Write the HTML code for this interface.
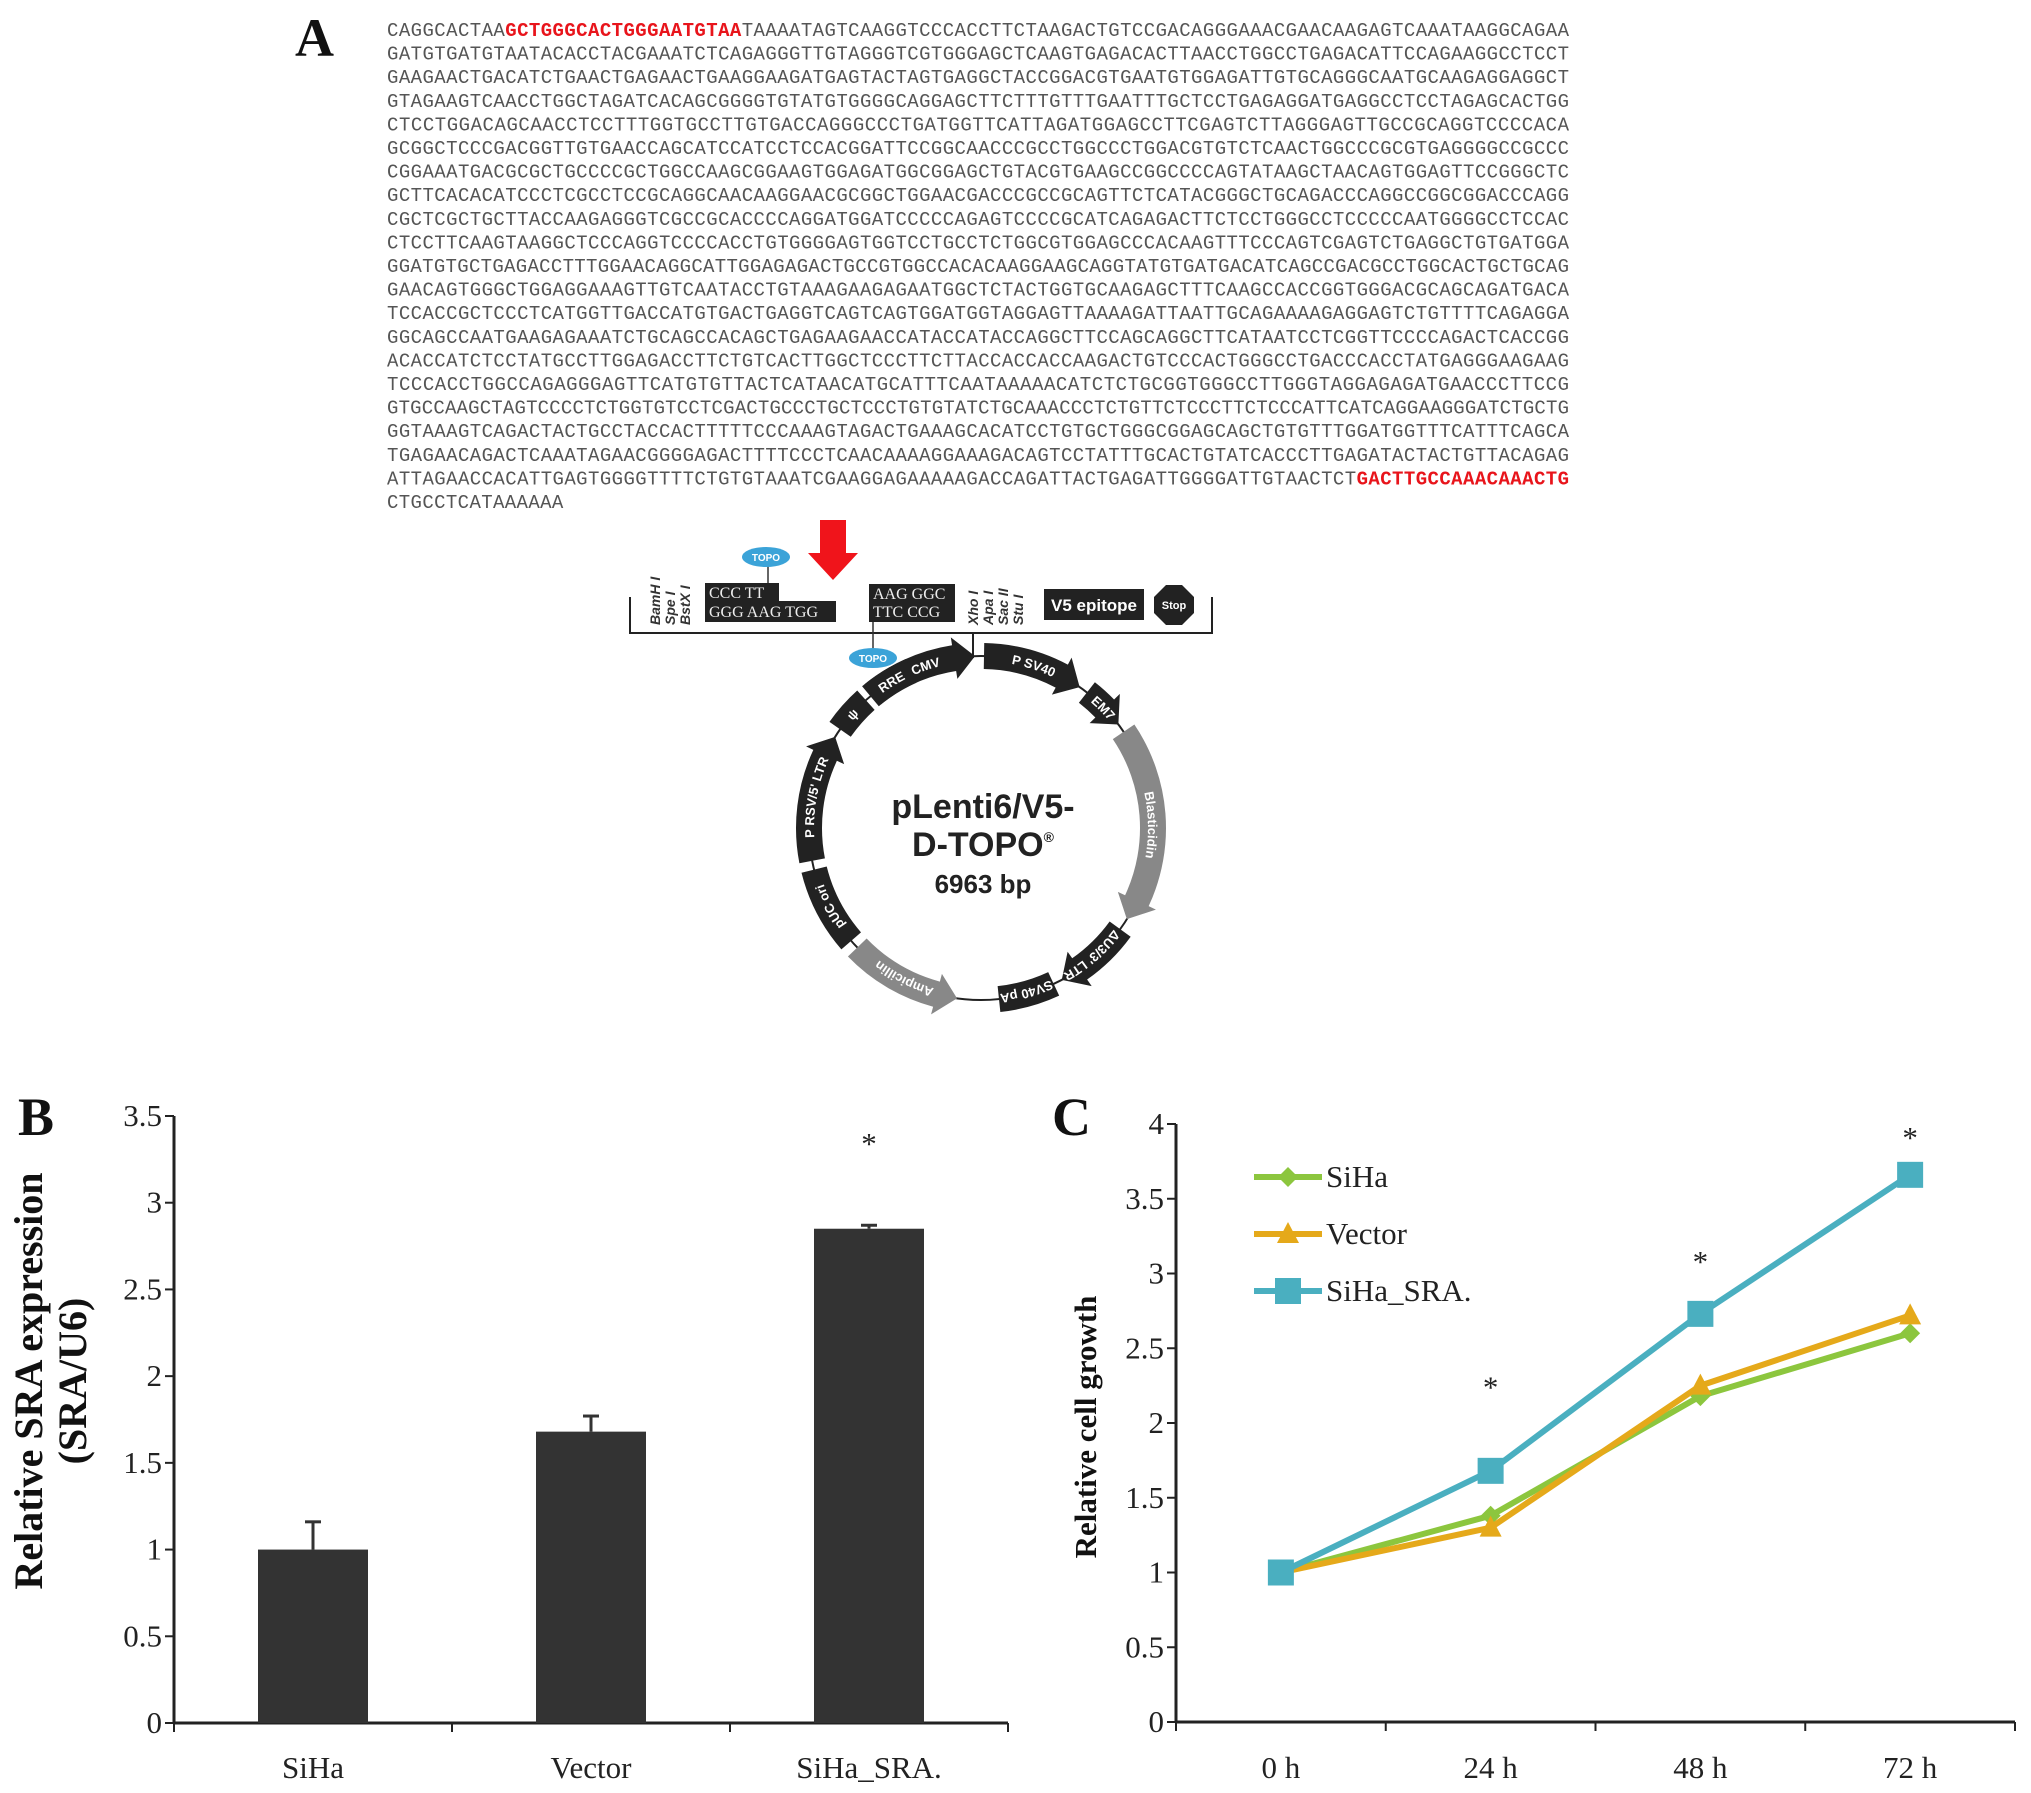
<!DOCTYPE html>
<html><head><meta charset="utf-8"><style>
html,body{margin:0;padding:0;background:#fff}
svg{display:block}
.seq{font-family:"Liberation Mono",monospace;font-size:19px;fill:#555}
.red{fill:#e8141b;font-weight:bold}
.tk{font-family:"Liberation Serif",serif;font-size:31px;fill:#222}
.ttl{font-family:"Liberation Serif",serif;font-weight:bold;fill:#111}
.pl{font-family:"Liberation Sans",sans-serif;font-weight:bold}
</style></head><body>
<svg id="fig" width="2031" height="1793" viewBox="0 0 2031 1793" xmlns="http://www.w3.org/2000/svg">
<text class="ttl" x="295" y="56" font-size="54">A</text>
<g id="seqg"></g>

<g>
  <polygon points="820,520 846,520 846,553 858,553 833,580 808,553 820,553" fill="#f0141b"/>
  <polyline points="630,597 630,633 1212,633 1212,597" fill="none" stroke="#222" stroke-width="2"/>
  <line x1="973" y1="633" x2="973" y2="658" stroke="#222" stroke-width="2"/>
  <g class="pl" font-style="italic" font-weight="normal" font-size="14" fill="#333">
    <text transform="translate(660,625) rotate(-90)">BamH I</text>
    <text transform="translate(675,625) rotate(-90)">Spe I</text>
    <text transform="translate(690,625) rotate(-90)">BstX I</text>
    <text transform="translate(978,625) rotate(-90)">Xho I</text>
    <text transform="translate(993,625) rotate(-90)">Apa I</text>
    <text transform="translate(1008,625) rotate(-90)">Sac II</text>
    <text transform="translate(1023,625) rotate(-90)">Stu I</text>
  </g>
  <rect x="705" y="583" width="74" height="20" fill="#222"/>
  <rect x="705" y="601" width="131" height="21" fill="#222"/>
  <rect x="869" y="584" width="86" height="38" fill="#222"/>
  <g font-family="Liberation Serif,serif" font-size="16" fill="#eee">
    <text x="709" y="598">CCC  TT</text>
    <text x="709" y="617">GGG  AAG  TGG</text>
    <text x="873" y="599">AAG  GGC</text>
    <text x="873" y="617">TTC  CCG</text>
  </g>
  <line x1="768" y1="562" x2="768" y2="583" stroke="#333" stroke-width="1.5"/>
  <line x1="873" y1="622" x2="873" y2="652" stroke="#333" stroke-width="1.5"/>
  <ellipse cx="766" cy="557" rx="24" ry="10" fill="#3ba3d8"/>
  <ellipse cx="873" cy="658" rx="24" ry="10" fill="#3ba3d8"/>
  <text x="766" y="561" font-size="10" fill="#fff" text-anchor="middle" class="pl">TOPO</text>
  <text x="873" y="662" font-size="10" fill="#fff" text-anchor="middle" class="pl">TOPO</text>
  <rect x="1044" y="589" width="100" height="31" fill="#222"/>
  <text x="1094" y="611" class="pl" font-size="17" fill="#fff" text-anchor="middle">V5 epitope</text>
  <polygon points="1166,585 1182,585 1194,597 1194,613 1182,625 1166,625 1154,613 1154,597" fill="#222"/>
  <text x="1174" y="609" class="pl" font-size="11" fill="#fff" text-anchor="middle">Stop</text>
  <g id="ring"></g>
  <g class="pl" fill="#222" text-anchor="middle">
    <text x="983" y="818" font-size="34">pLenti6/V5-</text>
    <text x="983" y="856" font-size="34">D-TOPO<tspan font-size="14" dy="-14">®</tspan></text>
    <text x="983" y="893" font-size="26">6963 bp</text>
  </g>
</g>

<text class="ttl" x="18" y="1135" font-size="54">B</text>
<g id="chartB"></g>
<text class="ttl" transform="translate(42,1381) rotate(-90)" font-size="40" text-anchor="middle">Relative SRA expression</text>
<text class="ttl" transform="translate(86,1381) rotate(-90)" font-size="40" text-anchor="middle">(SRA/U6)</text>

<text class="ttl" x="1052" y="1135" font-size="54">C</text>
<g id="chartC"></g>
<text class="ttl" transform="translate(1096,1427) rotate(-90)" font-size="31" text-anchor="middle">Relative cell growth</text>
</svg>
<script>
// ---- sequence ----
const seqLines = [
"CAGGCACTAA|GCTGGGCACTGGGAATGTAA|TAAAATAGTCAAGGTCCCACCTTCTAAGACTGTCCGACAGGGAAACGAACAAGAGTCAAATAAGGCAGAA",
"GATGTGATGTAATACACCTACGAAATCTCAGAGGGTTGTAGGGTCGTGGGAGCTCAAGTGAGACACTTAACCTGGCCTGAGACATTCCAGAAGGCCTCCT",
"GAAGAACTGACATCTGAACTGAGAACTGAAGGAAGATGAGTACTAGTGAGGCTACCGGACGTGAATGTGGAGATTGTGCAGGGCAATGCAAGAGGAGGCT",
"GTAGAAGTCAACCTGGCTAGATCACAGCGGGGTGTATGTGGGGCAGGAGCTTCTTTGTTTGAATTTGCTCCTGAGAGGATGAGGCCTCCTAGAGCACTGG",
"CTCCTGGACAGCAACCTCCTTTGGTGCCTTGTGACCAGGGCCCTGATGGTTCATTAGATGGAGCCTTCGAGTCTTAGGGAGTTGCCGCAGGTCCCCACA",
"GCGGCTCCCGACGGTTGTGAACCAGCATCCATCCTCCACGGATTCCGGCAACCCGCCTGGCCCTGGACGTGTCTCAACTGGCCCGCGTGAGGGGCCGCCC",
"CGGAAATGACGCGCTGCCCCGCTGGCCAAGCGGAAGTGGAGATGGCGGAGCTGTACGTGAAGCCGGCCCCAGTATAAGCTAACAGTGGAGTTCCGGGCTC",
"GCTTCACACATCCCTCGCCTCCGCAGGCAACAAGGAACGCGGCTGGAACGACCCGCCGCAGTTCTCATACGGGCTGCAGACCCAGGCCGGCGGACCCAGG",
"CGCTCGCTGCTTACCAAGAGGGTCGCCGCACCCCAGGATGGATCCCCCAGAGTCCCCGCATCAGAGACTTCTCCTGGGCCTCCCCCAATGGGGCCTCCAC",
"CTCCTTCAAGTAAGGCTCCCAGGTCCCCACCTGTGGGGAGTGGTCCTGCCTCTGGCGTGGAGCCCACAAGTTTCCCAGTCGAGTCTGAGGCTGTGATGGA",
"GGATGTGCTGAGACCTTTGGAACAGGCATTGGAGAGACTGCCGTGGCCACACAAGGAAGCAGGTATGTGATGACATCAGCCGACGCCTGGCACTGCTGCAG",
"GAACAGTGGGCTGGAGGAAAGTTGTCAATACCTGTAAAGAAGAGAATGGCTCTACTGGTGCAAGAGCTTTCAAGCCACCGGTGGGACGCAGCAGATGACA",
"TCCACCGCTCCCTCATGGTTGACCATGTGACTGAGGTCAGTCAGTGGATGGTAGGAGTTAAAAGATTAATTGCAGAAAAGAGGAGTCTGTTTTCAGAGGA",
"GGCAGCCAATGAAGAGAAATCTGCAGCCACAGCTGAGAAGAACCATACCATACCAGGCTTCCAGCAGGCTTCATAATCCTCGGTTCCCCAGACTCACCGG",
"ACACCATCTCCTATGCCTTGGAGACCTTCTGTCACTTGGCTCCCTTCTTACCACCACCAAGACTGTCCCACTGGGCCTGACCCACCTATGAGGGAAGAAG",
"TCCCACCTGGCCAGAGGGAGTTCATGTGTTACTCATAACATGCATTTCAATAAAAACATCTCTGCGGTGGGCCTTGGGTAGGAGAGATGAACCCTTCCG",
"GTGCCAAGCTAGTCCCCTCTGGTGTCCTCGACTGCCCTGCTCCCTGTGTATCTGCAAACCCTCTGTTCTCCCTTCTCCCATTCATCAGGAAGGGATCTGCTG",
"GGTAAAGTCAGACTACTGCCTACCACTTTTTCCCAAAGTAGACTGAAAGCACATCCTGTGCTGGGCGGAGCAGCTGTGTTTGGATGGTTTCATTTCAGCA",
"TGAGAACAGACTCAAATAGAACGGGGAGACTTTTCCCTCAACAAAAGGAAAGACAGTCCTATTTGCACTGTATCACCCTTGAGATACTACTGTTACAGAG",
"ATTAGAACCACATTGAGTGGGGTTTTCTGTGTAAATCGAAGGAGAAAAAGACCAGATTACTGAGATTGGGGATTGTAACTCT|GACTTGCCAAACAAACTG|",
"CTGCCTCATAAAAAA"];
const NS='http://www.w3.org/2000/svg';
function mk(tag,attrs,parent){const e=document.createElementNS(NS,tag);for(const k in attrs)e.setAttribute(k,attrs[k]);parent.appendChild(e);return e;}
const sg=document.getElementById('seqg');
seqLines.forEach((ln,i)=>{
  const parts=ln.split('|');const total=parts.join('').length;
  const len=i<seqLines.length-1?1182:total*11.75;
  const t=mk('text',{class:'seq',x:387,y:36+i*23.6,textLength:len.toFixed(1),lengthAdjust:'spacing'},sg);
  
  
  parts.forEach((p,j)=>{if(!p)return;const s=mk('tspan',j%2?{class:'red'}:{},t);s.textContent=p;});
});
// ---- plasmid ring ----
const ring=document.getElementById('ring');
const cx=981,cy=828,R=172,W=26;
function pt(a,r){const t=(a-90)*Math.PI/180;return [cx+r*Math.cos(t),cy+r*Math.sin(t)];}
mk('circle',{cx:cx,cy:cy,r:R,fill:'none',stroke:'#222','stroke-width':2},ring);
const segs=[[-40,-2,'#222',1,'P CMV'],[1,35,'#222',1,'P SV40'],[38,53,'#222',1,'EM7'],[56,122,'#888',1,'Blasticidin'],[126,152,'#222',1,'ΔU3/3\' LTR'],[155,174,'#222',0,'SV40 pA'],[188,226,'#888',-1,'Ampicillin'],[229,256,'#222',0,'pUC ori'],[259,302,'#222',1,'P RSV/5\' LTR'],[305,318,'#222',0,'ψ'],[321,336,'#222',0,'RRE']];
segs.forEach((s,i)=>{
  let [a0,a1,col,dir]=s;const ro=R+W/2,ri=R-W/2,ah=7;
  let d;
  if(dir===1){const b=a1-ah;const p1=pt(a0,ro),p2=pt(b,ro),p3=pt(b,ro+8),p4=pt(a1,R),p5=pt(b,ri-8),p6=pt(b,ri),p7=pt(a0,ri);
    d=`M${p1}A${ro},${ro} 0 0 1 ${p2}L${p3}L${p4}L${p5}L${p6}A${ri},${ri} 0 0 0 ${p7}Z`;}
  else if(dir===-1){const b=a0+ah;const p1=pt(b,ro),p2=pt(a1,ro),p3=pt(a1,ri),p4=pt(b,ri),p5=pt(b,ri-8),p6=pt(a0,R),p7=pt(b,ro+8);
    d=`M${p1}A${ro},${ro} 0 0 1 ${p2}L${p3}A${ri},${ri} 0 0 0 ${p4}L${p5}L${p6}L${p7}Z`;}
  else{const p1=pt(a0,ro),p2=pt(a1,ro),p3=pt(a1,ri),p4=pt(a0,ri);d=`M${p1}A${ro},${ro} 0 0 1 ${p2}L${p3}A${ri},${ri} 0 0 0 ${p4}Z`;}
  mk('path',{d:d,fill:col},ring);
  const pa=pt(a0+1,R-5),pb=pt(a1-1,R-5);
  mk('path',{id:'tp'+i,d:`M${pa}A${R-5},${R-5} 0 0 1 ${pb}`,fill:'none'},ring);
  const t=mk('text',{class:'pl','font-size':13,fill:'#fff'},ring);
  const tp=mk('textPath',{href:'#tp'+i,startOffset:'50%','text-anchor':'middle'},t);tp.textContent=s[4];
});
// ---- chart B ----
const bCats=["SiHa","Vector","SiHa_SRA."];
const bVals=[1.0,1.68,2.85];
const bErr=[0.16,0.09,0.02];
const bTicks=[0,0.5,1,1.5,2,2.5,3,3.5];
const bStar=[false,false,true];
const gB=document.getElementById('chartB');
const bx0=174,bx1=1008,by0=1723,bMax=3.5,bPix=607;
const byS=v=>by0-v/bMax*bPix;
const bw=(bx1-bx0)/bCats.length;
const bxS=i=>bx0+bw*(i+0.5);
mk('line',{x1:bx0,y1:byS(bMax),x2:bx0,y2:by0,stroke:'#222','stroke-width':3},gB);
mk('line',{x1:bx0,y1:by0,x2:bx1,y2:by0,stroke:'#222','stroke-width':3},gB);
bTicks.forEach(v=>{mk('line',{x1:bx0-9,y1:byS(v),x2:bx0,y2:byS(v),stroke:'#222','stroke-width':2},gB);
  const t=mk('text',{class:'tk',x:bx0-12,y:byS(v)+10,'text-anchor':'end'},gB);t.textContent=v;
  
  });
for(let i=0;i<=bCats.length;i++)mk('line',{x1:bx0+bw*i,y1:by0,x2:bx0+bw*i,y2:by0+9,stroke:'#222','stroke-width':2},gB);
bCats.forEach((c,i)=>{
  const x=bxS(i),w=110;
  mk('line',{x1:x,y1:byS(bVals[i]),x2:x,y2:byS(bVals[i]+bErr[i]),stroke:'#333','stroke-width':3},gB);
  mk('line',{x1:x-8,y1:byS(bVals[i]+bErr[i]),x2:x+8,y2:byS(bVals[i]+bErr[i]),stroke:'#333','stroke-width':3},gB);
  const r=mk('rect',{x:x-w/2,y:byS(bVals[i]),width:w,height:by0-byS(bVals[i]),fill:'#333'},gB);
  
  
  const t=mk('text',{class:'tk',x:x,y:1778,'text-anchor':'middle'},gB);t.textContent=c;
  
  
  if(bStar[i]){const s=mk('text',{class:'tk',x:x,y:byS(3.28),'text-anchor':'middle','font-size':38},gB);s.textContent='*';}
});
// ---- chart C ----
const cCats=["0 h","24 h","48 h","72 h"];
const cSiHa=[1,1.38,2.18,2.6];
const cVector=[1,1.3,2.25,2.72];
const cSRA=[1,1.68,2.73,3.66];
const cTicks=[0,0.5,1,1.5,2,2.5,3,3.5,4];
const cStars=[null,2.33,3.17,4.0];
const gC=document.getElementById('chartC');
const cx0=1176,cx1=2015,cy0=1722,cMax=4,cPix=598;
const cyS=v=>cy0-v/cMax*cPix;
const cw=(cx1-cx0)/cCats.length;
const cxS=i=>cx0+cw*(i+0.5);
mk('line',{x1:cx0,y1:cyS(cMax),x2:cx0,y2:cy0,stroke:'#222','stroke-width':3},gC);
mk('line',{x1:cx0,y1:cy0,x2:cx1,y2:cy0,stroke:'#222','stroke-width':3},gC);
cTicks.forEach(v=>{mk('line',{x1:cx0-9,y1:cyS(v),x2:cx0,y2:cyS(v),stroke:'#222','stroke-width':2},gC);
  const t=mk('text',{class:'tk',x:cx0-12,y:cyS(v)+10,'text-anchor':'end'},gC);t.textContent=v;
  
  });
for(let i=0;i<=cCats.length;i++)mk('line',{x1:cx0+cw*i,y1:cy0,x2:cx0+cw*i,y2:cy0+9,stroke:'#222','stroke-width':2},gC);
cCats.forEach((c,i)=>{const t=mk('text',{class:'tk',x:cxS(i),y:1778,'text-anchor':'middle'},gC);t.textContent=c;
  
  
  if(cStars[i]!==null){const s=mk('text',{class:'tk',x:cxS(i),y:cyS(cStars[i])+24,'text-anchor':'middle','font-size':38},gC);s.textContent='*';}});
function marker(g,type,x,y,col){
  if(type==='d')mk('polygon',{points:`${x},${y-10} ${x+10},${y} ${x},${y+10} ${x-10},${y}`,fill:col},g);
  else if(type==='t')mk('polygon',{points:`${x},${y-12} ${x+11},${y+9} ${x-11},${y+9}`,fill:col},g);
  else mk('rect',{x:x-13,y:y-13,width:26,height:26,fill:col},g);
}
const series=[["SiHa",cSiHa,'#8cc63e','d'],["Vector",cVector,'#e5a91a','t'],["SiHa_SRA.",cSRA,'#4aafc0','s']];
series.forEach((s,k)=>{
  const g=mk('g',{},gC);
  
  
  mk('polyline',{points:s[1].map((v,i)=>cxS(i)+','+cyS(v)).join(' '),fill:'none',stroke:s[2],'stroke-width':6,'stroke-linejoin':'round'},g);
  s[1].forEach((v,i)=>marker(g,s[3],cxS(i),cyS(v),s[2]));
  const ly=1177+k*57;
  const lg=mk('g',{},gC);
  
  
  mk('line',{x1:1254,y1:ly,x2:1322,y2:ly,stroke:s[2],'stroke-width':6},lg);
  marker(lg,s[3],1288,ly,s[2]);
  const t=mk('text',{class:'tk',x:1326,y:ly+10},lg);t.textContent=s[0];
});
</script>
</body></html>
